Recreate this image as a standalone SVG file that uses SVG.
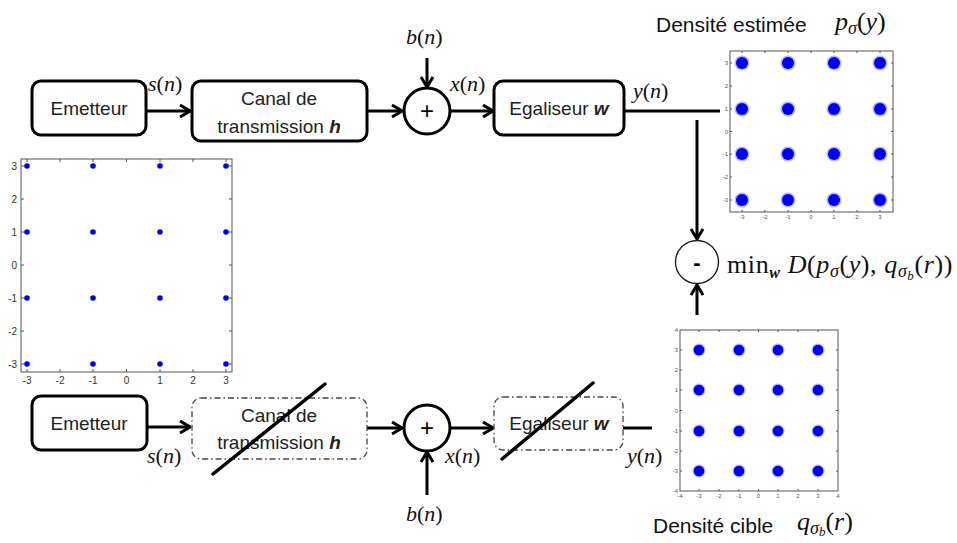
<svg xmlns="http://www.w3.org/2000/svg" width="957" height="543" viewBox="0 0 957 543">
<defs>
<marker id="arr" viewBox="0 0 12 14" refX="11" refY="7" markerWidth="12" markerHeight="14" markerUnits="userSpaceOnUse" orient="auto">
<path d="M1,1 L11,7 L1,13" fill="none" stroke="#000" stroke-width="3"/>
</marker>
<style>
.box{fill:#fff;stroke:#000;stroke-width:3}
.dbox{fill:#fff;stroke:#444;stroke-width:1.3;stroke-dasharray:6 3 1.5 3}
.lbl{font-family:"Liberation Sans",Arial,sans-serif;font-size:19px;fill:#222;text-anchor:middle}
.math{font-family:"Liberation Serif","Times New Roman",serif;font-size:22px;fill:#111}
.it{font-style:italic}
.cap{font-family:"Liberation Sans",Arial,sans-serif;font-size:21px;fill:#111}
.con{stroke:#000;stroke-width:3;fill:none}
.slash{stroke:#000;stroke-width:3.5;stroke-linecap:round}
.frame{fill:#fff;stroke:#555;stroke-width:1}
.tick{stroke:#555;stroke-width:1}
.tl{font-family:"Liberation Sans",Arial,sans-serif;font-size:10px;fill:#333}
.ts{font-family:"Liberation Sans",Arial,sans-serif;font-size:6px;fill:#555}
.dot{fill:#0000ee}
.blob{fill:#0000f0}
.halo{fill:#2030ff;opacity:0.35}
</style>
</defs>

<!-- Connectors -->
<g id="connectors">
<line class="con" x1="146" y1="111" x2="190" y2="111" marker-end="url(#arr)"/>
<line class="con" x1="367" y1="111" x2="402" y2="111" marker-end="url(#arr)"/>
<line class="con" x1="427" y1="58" x2="427" y2="87" marker-end="url(#arr)"/>
<line class="con" x1="450" y1="111" x2="493" y2="111" marker-end="url(#arr)"/>
<line class="con" x1="624" y1="111" x2="720" y2="111"/>
<line class="con" x1="697" y1="120" x2="697" y2="239" marker-end="url(#arr)"/>
<line class="con" x1="697" y1="315" x2="697" y2="285" marker-end="url(#arr)"/>
<line class="con" x1="147" y1="427" x2="190" y2="427" marker-end="url(#arr)"/>
<line class="con" x1="367" y1="428" x2="402" y2="428" marker-end="url(#arr)"/>
<line class="con" x1="427" y1="495" x2="427" y2="452" marker-end="url(#arr)"/>
<line class="con" x1="450" y1="428" x2="493" y2="428" marker-end="url(#arr)"/>
<line class="con" x1="623" y1="428" x2="652" y2="428"/>
</g>

<!-- Top row -->
<g id="emetteur1">
<rect class="box" x="32" y="81" width="114" height="54" rx="9"/>
<text class="lbl" x="89" y="115">Emetteur</text>
</g>
<g id="canal1">
<rect class="box" x="192" y="81" width="175" height="60" rx="9"/>
<text class="lbl" x="279" y="105">Canal de</text>
<text class="lbl" x="279" y="133">transmission <tspan font-weight="bold" font-style="italic">h</tspan></text>
</g>
<g id="sum1">
<circle cx="427" cy="111" r="23" fill="#fff" stroke="#000" stroke-width="3"/>
<text class="lbl" x="427" y="119" style="font-size:24px;fill:#000">+</text>
</g>
<g id="egaliseur1">
<rect class="box" x="494" y="81" width="130" height="54" rx="9"/>
<text class="lbl" x="559" y="115">Egaliseur <tspan font-weight="bold" font-style="italic">w</tspan></text>
</g>
<g id="labels-top">
<text class="math" x="148" y="91"><tspan class="it">s</tspan>(<tspan class="it">n</tspan>)</text>
<text class="math" x="406" y="44"><tspan class="it">b</tspan>(<tspan class="it">n</tspan>)</text>
<text class="math" x="450" y="91"><tspan class="it">x</tspan>(<tspan class="it">n</tspan>)</text>
<text class="math" x="633" y="98"><tspan class="it">y</tspan>(<tspan class="it">n</tspan>)</text>
</g>

<!-- Minus / criterion -->
<g id="minus">
<circle cx="697" cy="262" r="21.5" fill="#fff" stroke="#222" stroke-width="1.4"/>
<text class="lbl" x="697" y="270" style="font-size:22px;font-weight:bold;fill:#000">-</text>
</g>
<g id="criterion">
<text class="math" x="727" y="273" style="font-size:26px;letter-spacing:0.6px">min<tspan class="it" font-weight="bold" font-size="16" dy="5">w</tspan><tspan dy="-5">  </tspan><tspan class="it">D</tspan>(<tspan class="it">p</tspan><tspan class="it" font-size="18" dy="4">σ</tspan><tspan dy="-4">(</tspan><tspan class="it">y</tspan>), <tspan class="it">q</tspan><tspan class="it" font-size="18" dy="4">σ</tspan><tspan class="it" font-size="13" dy="3">b</tspan><tspan dy="-7">(</tspan><tspan class="it">r</tspan>))</text>
</g>

<!-- Captions -->
<g id="caption-estimee">
<text class="cap" x="656" y="32">Densité estimée</text>
<text class="math" x="835" y="30" style="font-size:26px"><tspan class="it">p</tspan><tspan class="it" font-size="18" dy="4">σ</tspan><tspan dy="-4">(</tspan><tspan class="it">y</tspan>)</text>
</g>
<g id="caption-cible">
<text class="cap" x="653" y="533">Densité cible</text>
<text class="math" x="797" y="530" style="font-size:26px"><tspan class="it">q</tspan><tspan class="it" font-size="18" dy="4">σ</tspan><tspan class="it" font-size="13" dy="2">b</tspan><tspan dy="-6">(</tspan><tspan class="it">r</tspan>)</text>
</g>

<!-- Bottom row -->
<g id="emetteur2">
<rect class="box" x="32" y="396" width="115" height="54" rx="9"/>
<text class="lbl" x="89" y="430">Emetteur</text>
</g>
<g id="canal2">
<rect class="dbox" x="192" y="398" width="175" height="61" rx="9"/>
<text class="lbl" x="279" y="422">Canal de</text>
<text class="lbl" x="279" y="449">transmission <tspan font-weight="bold" font-style="italic">h</tspan></text>
<line class="slash" x1="213" y1="474" x2="325" y2="384"/>
</g>
<g id="sum2">
<circle cx="427" cy="428" r="23" fill="#fff" stroke="#000" stroke-width="3"/>
<text class="lbl" x="427" y="436" style="font-size:24px;fill:#000">+</text>
</g>
<g id="egaliseur2">
<rect class="dbox" x="494" y="397" width="129" height="53" rx="9"/>
<text class="lbl" x="559" y="430">Egaliseur <tspan font-weight="bold" font-style="italic">w</tspan></text>
<line class="slash" x1="502" y1="459" x2="593" y2="383"/>
</g>
<g id="labels-bottom">
<text class="math" x="147" y="463"><tspan class="it">s</tspan>(<tspan class="it">n</tspan>)</text>
<text class="math" x="445" y="463"><tspan class="it">x</tspan>(<tspan class="it">n</tspan>)</text>
<text class="math" x="627" y="463"><tspan class="it">y</tspan>(<tspan class="it">n</tspan>)</text>
<text class="math" x="406" y="521"><tspan class="it">b</tspan>(<tspan class="it">n</tspan>)</text>
</g>

<!-- Left constellation plot -->
<g id="plot-source">
<rect class="frame" x="21" y="159" width="211" height="213"/>
<path class="tick" d="M27,372v-3M60,372v-3M93,372v-3M126.5,372v-3M160,372v-3M193,372v-3M226,372v-3M27,159v3M60,159v3M93,159v3M126.5,159v3M160,159v3M193,159v3M226,159v3M21,166h3M21,199h3M21,232h3M21,265h3M21,298h3M21,331h3M21,364h3M232,166h-3M232,199h-3M232,232h-3M232,265h-3M232,298h-3M232,331h-3M232,364h-3"/>
<g class="tl" text-anchor="end">
<text x="17" y="170">3</text><text x="17" y="203">2</text><text x="17" y="236">1</text><text x="17" y="269">0</text><text x="17" y="302">-1</text><text x="17" y="335">-2</text><text x="17" y="368">-3</text>
</g>
<g class="tl" text-anchor="middle">
<text x="27" y="384">-3</text><text x="60" y="384">-2</text><text x="93" y="384">-1</text><text x="126.5" y="384">0</text><text x="160" y="384">1</text><text x="193" y="384">2</text><text x="226" y="384">3</text>
</g>
<g class="dot">
<circle cx="27" cy="166" r="2.8"/><circle cx="93" cy="166" r="2.8"/><circle cx="160" cy="166" r="2.8"/><circle cx="226" cy="166" r="2.8"/>
<circle cx="27" cy="232" r="2.8"/><circle cx="93" cy="232" r="2.8"/><circle cx="160" cy="232" r="2.8"/><circle cx="226" cy="232" r="2.8"/>
<circle cx="27" cy="298" r="2.8"/><circle cx="93" cy="298" r="2.8"/><circle cx="160" cy="298" r="2.8"/><circle cx="226" cy="298" r="2.8"/>
<circle cx="27" cy="364" r="2.8"/><circle cx="93" cy="364" r="2.8"/><circle cx="160" cy="364" r="2.8"/><circle cx="226" cy="364" r="2.8"/>
</g>
</g>

<!-- Estimated density plot -->
<g id="plot-estimee">
<rect class="frame" x="730" y="51" width="163" height="161"/>
<path class="tick" d="M742,212v-2M765,212v-2M788,212v-2M811,212v-2M834,212v-2M857,212v-2M880,212v-2M742,51v2M765,51v2M788,51v2M811,51v2M834,51v2M857,51v2M880,51v2M730,63h2M730,86h2M730,109h2M730,131.5h2M730,154h2M730,177h2M730,200h2M893,63h-2M893,86h-2M893,109h-2M893,131.5h-2M893,154h-2M893,177h-2M893,200h-2"/>
<g class="ts" text-anchor="end">
<text x="728" y="65">3</text><text x="728" y="88">2</text><text x="728" y="111">1</text><text x="728" y="133.5">0</text><text x="728" y="156">-1</text><text x="728" y="179">-2</text><text x="728" y="202">-3</text>
</g>
<g class="ts" text-anchor="middle">
<text x="742" y="219">-3</text><text x="765" y="219">-2</text><text x="788" y="219">-1</text><text x="811" y="219">0</text><text x="834" y="219">1</text><text x="857" y="219">2</text><text x="880" y="219">3</text>
</g>
<g class="halo">
<circle cx="742" cy="63" r="7.5"/><circle cx="788" cy="63" r="7.5"/><circle cx="834" cy="63" r="7.5"/><circle cx="880" cy="63" r="7.5"/>
<circle cx="742" cy="109" r="7.5"/><circle cx="788" cy="109" r="7.5"/><circle cx="834" cy="109" r="7.5"/><circle cx="880" cy="109" r="7.5"/>
<circle cx="742" cy="154" r="7.5"/><circle cx="788" cy="154" r="7.5"/><circle cx="834" cy="154" r="7.5"/><circle cx="880" cy="154" r="7.5"/>
<circle cx="742" cy="200" r="7.5"/><circle cx="788" cy="200" r="7.5"/><circle cx="834" cy="200" r="7.5"/><circle cx="880" cy="200" r="7.5"/>
</g>
<g class="blob">
<circle cx="742" cy="63" r="6"/><circle cx="788" cy="63" r="6"/><circle cx="834" cy="63" r="6"/><circle cx="880" cy="63" r="6"/>
<circle cx="742" cy="109" r="6"/><circle cx="788" cy="109" r="6"/><circle cx="834" cy="109" r="6"/><circle cx="880" cy="109" r="6"/>
<circle cx="742" cy="154" r="6"/><circle cx="788" cy="154" r="6"/><circle cx="834" cy="154" r="6"/><circle cx="880" cy="154" r="6"/>
<circle cx="742" cy="200" r="6"/><circle cx="788" cy="200" r="6"/><circle cx="834" cy="200" r="6"/><circle cx="880" cy="200" r="6"/>
</g>
</g>

<!-- Target density plot -->
<g id="plot-cible">
<rect class="frame" x="680" y="330" width="158" height="161"/>
<path class="tick" d="M699,491v-2M719,491v-2M739,491v-2M758.5,491v-2M778,491v-2M798,491v-2M818,491v-2M699,330v2M719,330v2M739,330v2M758.5,330v2M778,330v2M798,330v2M818,330v2M680,350h2M680,370h2M680,390h2M680,410.5h2M680,431h2M680,451h2M680,471h2M838,350h-2M838,370h-2M838,390h-2M838,410.5h-2M838,431h-2M838,451h-2M838,471h-2"/>
<g class="ts" text-anchor="end">
<text x="678" y="332">4</text><text x="678" y="352">3</text><text x="678" y="372">2</text><text x="678" y="392">1</text><text x="678" y="412.5">0</text><text x="678" y="433">-1</text><text x="678" y="453">-2</text><text x="678" y="473">-3</text><text x="678" y="493">-4</text>
</g>
<g class="ts" text-anchor="middle">
<text x="680" y="498">-4</text><text x="699" y="498">-3</text><text x="719" y="498">-2</text><text x="739" y="498">-1</text><text x="758.5" y="498">0</text><text x="778" y="498">1</text><text x="798" y="498">2</text><text x="818" y="498">3</text><text x="838" y="498">4</text>
</g>
<g class="halo">
<circle cx="699" cy="350" r="6.5"/><circle cx="739" cy="350" r="6.5"/><circle cx="778" cy="350" r="6.5"/><circle cx="818" cy="350" r="6.5"/>
<circle cx="699" cy="390" r="6.5"/><circle cx="739" cy="390" r="6.5"/><circle cx="778" cy="390" r="6.5"/><circle cx="818" cy="390" r="6.5"/>
<circle cx="699" cy="431" r="6.5"/><circle cx="739" cy="431" r="6.5"/><circle cx="778" cy="431" r="6.5"/><circle cx="818" cy="431" r="6.5"/>
<circle cx="699" cy="471" r="6.5"/><circle cx="739" cy="471" r="6.5"/><circle cx="778" cy="471" r="6.5"/><circle cx="818" cy="471" r="6.5"/>
</g>
<g class="blob">
<circle cx="699" cy="350" r="5.3"/><circle cx="739" cy="350" r="5.3"/><circle cx="778" cy="350" r="5.3"/><circle cx="818" cy="350" r="5.3"/>
<circle cx="699" cy="390" r="5.3"/><circle cx="739" cy="390" r="5.3"/><circle cx="778" cy="390" r="5.3"/><circle cx="818" cy="390" r="5.3"/>
<circle cx="699" cy="431" r="5.3"/><circle cx="739" cy="431" r="5.3"/><circle cx="778" cy="431" r="5.3"/><circle cx="818" cy="431" r="5.3"/>
<circle cx="699" cy="471" r="5.3"/><circle cx="739" cy="471" r="5.3"/><circle cx="778" cy="471" r="5.3"/><circle cx="818" cy="471" r="5.3"/>
</g>
</g>
</svg>
